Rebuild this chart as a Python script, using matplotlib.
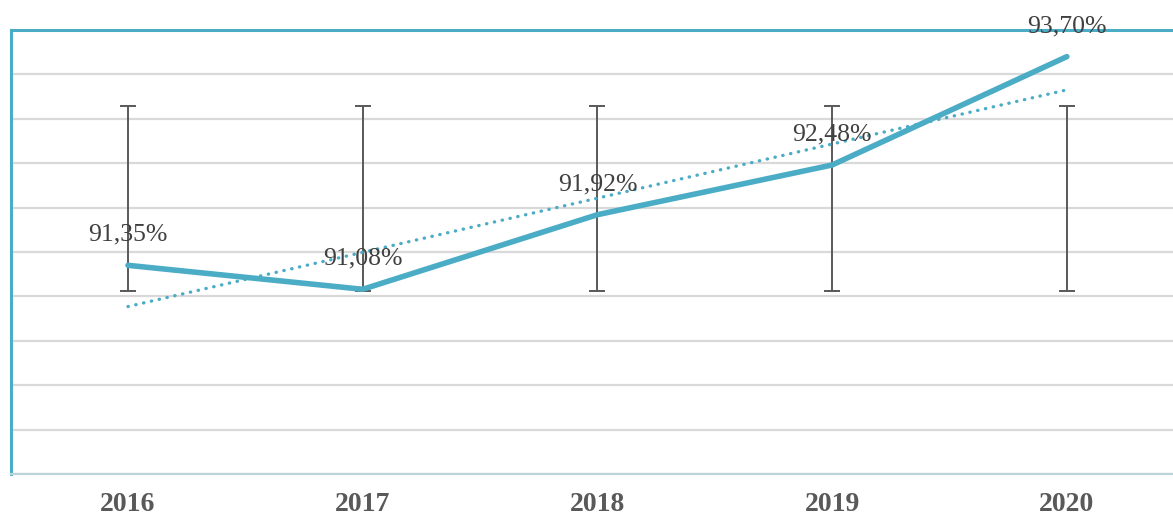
import numpy as np
import matplotlib.pyplot as plt

years = ['2016', '2017', '2018', '2019', '2020']
values = [91.35, 91.08, 91.92, 92.48, 93.70]
labels = ['91,35%', '91,08%', '91,92%', '92,48%', '93,70%']

teal = '#4BACC6'
x = np.arange(len(years))
y = np.array(values)

fig = plt.figure(figsize=(11.73, 5.18), dpi=100)
ax = fig.add_axes([10.6 / 1173, 1 - 474 / 518, 1173.6 / 1173, 444 / 518])

# horizontal grid
ax.set_ylim(89, 94)
ax.set_yticks(np.arange(89, 94.01, 0.5))
ax.yaxis.grid(True, color='#D9D9D9', lw=1.6)
ax.set_axisbelow(True)
ax.tick_params(axis='y', left=False, labelleft=False)

# excel style std dev error bars centred on the series mean
mean = y.mean()
sd = y.std(ddof=1)
ax.errorbar(x, np.full(len(x), mean), yerr=sd, fmt='none', ecolor='#595959',
            elinewidth=1.4, capsize=6, capthick=1.4, zorder=2)

# linear trend line
k, b = np.polyfit(x, y, 1)
ax.plot(x, k * x + b, color=teal, lw=2.4, ls=(0, (0.1, 2.3)),
        dash_capstyle='round', zorder=3)

ax.plot(x, y, color=teal, lw=4, solid_capstyle='round', zorder=4)

for xi, yi, t in zip(x, y, labels):
    ax.annotate(t, (xi, yi), xytext=(0, 22), textcoords='offset points',
                ha='center', va='center', fontsize=18.5, color='#404040',
                family='Liberation Serif', zorder=5, annotation_clip=False)

ax.set_xlim(-0.5, 4.5)
ax.set_xticks(x)
ax.set_xticklabels(years, family='Liberation Serif', fontweight='bold',
                   fontsize=20, color='#595959')
ax.tick_params(axis='x', length=0, pad=13)

for s in ['left', 'top']:
    ax.spines[s].set_color(teal)
    ax.spines[s].set_linewidth(2.2)
ax.spines['right'].set_visible(False)
ax.spines['bottom'].set_color('#BCD3DB')
ax.spines['bottom'].set_linewidth(1.6)

fig.savefig('out.png', dpi=100)
